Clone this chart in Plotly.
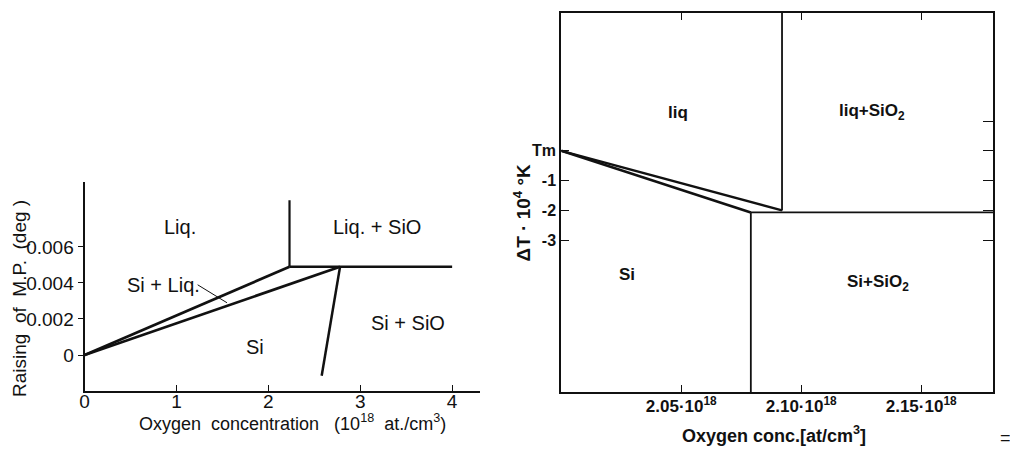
import plotly.graph_objects as go

# ---------------- data: left diagram (Raising of M.P. vs oxygen conc.) ----------------
liq_x = [0.0, 2.23]
liq_y = [0.0, 0.0049]
sol_x = [0.0, 2.78]
sol_y = [0.0, 0.0049]
eut_x = [2.23, 4.0]
eut_y = [0.0049, 0.0049]
vert_x = [2.23, 2.23]
vert_y = [0.0049, 0.0086]
solv_x = [2.78, 2.58]
solv_y = [0.0049, -0.00115]
lead_x = [1.23, 1.55]
lead_y = [0.0039, 0.0029]
left_xticks = [0, 1, 2, 3, 4]
left_yticks = [0, 0.002, 0.004, 0.006]
left_yticktext = ["0", "0.002", "0.004", "0.006"]
left_labels = ["Liq.", "Liq. + SiO", "Si + Liq.", "Si", "Si + SiO"]
left_label_x = [1.04, 3.18, 0.86, 1.85, 3.52]
left_label_y = [0.0071, 0.0071, 0.0039, 0.00045, 0.0018]

# ---------------- data: right diagram (ΔT vs oxygen conc.) ----------------
liq2_x = [2.000, 2.092]
liq2_y = [0.0, -2.0]
sol2_x = [2.000, 2.079]
sol2_y = [0.0, -2.07]
eut2_x = [2.079, 2.18]
eut2_y = [-2.07, -2.07]
vliq2_x = [2.092, 2.092]
vliq2_y = [-2.0, 4.63]
vsi2_x = [2.079, 2.079]
vsi2_y = [-2.07, -8.1]
right_xticks = [2.05, 2.10, 2.15]
right_xticktext = ["2.05·10<sup>18</sup>", "2.10·10<sup>18</sup>", "2.15·10<sup>18</sup>"]
right_yticks = [0, -1, -2, -3]
right_yticktext = ["Tm", "-1", "-2", "-3"]
right_yticks_mirror = [1, 0, -1, -2, -3]
right_labels = ["liq", "liq+SiO<sub>2</sub>", "Si", "Si+SiO<sub>2</sub>"]
right_label_x = [2.0488, 2.1296, 2.0275, 2.132]
right_label_y = [1.3, 1.3, -4.15, -4.45]

W, H = 1018, 450
OFF = 8  # page offset of the plot inside the browser window


def px_x(a, b):
    return [(a - OFF) / W, (b - OFF) / W]


def px_y(top, bottom):
    return [1 - (bottom - OFF) / H, 1 - (top - OFF) / H]


def pxp(x, y):
    return (x - OFF) / W, 1 - (y - OFF) / H


BLK = "#111111"
fig = go.Figure()


def seg(x, y, w, xa="x", ya="y"):
    fig.add_trace(go.Scatter(x=x, y=y, mode="lines", line=dict(color=BLK, width=w),
                             xaxis=xa, yaxis=ya, showlegend=False, hoverinfo="skip"))


# left
seg(liq_x, liq_y, 2.7)
seg(sol_x, sol_y, 2.7)
seg(eut_x, eut_y, 2.5)
seg(vert_x, vert_y, 2.2)
seg(solv_x, solv_y, 2.5)
seg(lead_x, lead_y, 1.0)
# right
seg(liq2_x, liq2_y, 2.4, "x2", "y2")
seg(sol2_x, sol2_y, 2.6, "x2", "y2")
seg(eut2_x, eut2_y, 1.8, "x2", "y2")
seg(vliq2_x, vliq2_y, 1.8, "x2", "y2")
seg(vsi2_x, vsi2_y, 1.8, "x2", "y2")
fig.add_trace(go.Scatter(x=[2.1], y=[0], mode="markers", marker=dict(opacity=0),
                         xaxis="x2", yaxis="y3", showlegend=False, hoverinfo="skip"))

LF = "Liberation Sans"
for t, x, y in zip(left_labels, left_label_x, left_label_y):
    fig.add_annotation(text=t, x=x, y=y, xref="x", yref="y", showarrow=False,
                       xanchor="center", yanchor="middle",
                       font=dict(family=LF, size=20, color=BLK))
for t, x, y in zip(right_labels, right_label_x, right_label_y):
    fig.add_annotation(text=t, x=x, y=y, xref="x2", yref="y2", showarrow=False,
                       xanchor="center", yanchor="middle",
                       font=dict(family=LF, size=17, color=BLK, weight="bold"))


def title(text, x, y, size, bold=False, angle=0):
    px, py = pxp(x, y)
    f = dict(family=LF, size=size, color=BLK)
    if bold:
        f["weight"] = "bold"
    fig.add_annotation(text=text, x=px, y=py, xref="paper", yref="paper", showarrow=False,
                       xanchor="center", yanchor="middle", textangle=angle, font=f,
                       borderpad=0)


title("Oxygen  concentration   (10<sup>18</sup>  at./cm<sup>3</sup>)", 289, 422, 18)
title("Raising  of  M.P.  (deg )", 14, 298, 19, angle=-90)
title("Oxygen conc.[at/cm<sup>3</sup>]", 773, 434, 18, bold=True)
title("ΔT · 10<sup>4</sup> °K", 520, 212, 19, bold=True, angle=-90)
title("=", 1005, 438, 18)

fig.update_layout(
    width=W, height=H, margin=dict(l=0, r=0, t=0, b=0),
    paper_bgcolor="white", plot_bgcolor="white", showlegend=False,
    xaxis=dict(domain=px_x(80, 477), range=[0, 4.3], showgrid=False, zeroline=False,
               showline=True, linecolor=BLK, linewidth=2.2, ticks="inside", ticklen=6,
               tickwidth=1.2, tickcolor=BLK, tickvals=left_xticks,
               tickfont=dict(family=LF, size=19, color=BLK), ticklabelstandoff=-8),
    yaxis=dict(domain=px_y(182, 391), range=[-0.002, 0.00961], showgrid=False, zeroline=False,
               showline=True, linecolor=BLK, linewidth=2.2, ticks="outside", ticklen=5,
               tickwidth=1.2, tickcolor=BLK, tickvals=left_yticks, ticktext=left_yticktext,
               tickfont=dict(family=LF, size=19, color=BLK), ticklabelstandoff=0),
    xaxis2=dict(domain=px_x(559, 993), range=[2.0, 2.18], anchor="y2", showgrid=False,
                zeroline=False, showline=True, mirror="ticks", linecolor=BLK, linewidth=2,
                ticks="inside", ticklen=7, tickwidth=1.2, tickcolor=BLK,
                tickvals=right_xticks, ticktext=right_xticktext,
                tickfont=dict(family=LF, size=17, color=BLK, weight="bold"),
                ticklabelstandoff=-2),
    yaxis2=dict(domain=px_y(13, 392), range=[-8.1, 4.63], anchor="x2", showgrid=False,
                zeroline=False, showline=True, mirror=True, linecolor=BLK, linewidth=2,
                ticks="inside", ticklen=8, tickwidth=1.2, tickcolor=BLK,
                tickvals=right_yticks, ticktext=right_yticktext,
                tickfont=dict(family=LF, size=16, color=BLK, weight="bold"), ticklabelstandoff=0),
    yaxis3=dict(overlaying="y2", side="right", anchor="x2", range=[-8.1, 4.63],
                showgrid=False, zeroline=False, showline=False, ticks="inside", ticklen=10,
                tickwidth=1.2, tickcolor=BLK, tickvals=right_yticks_mirror,
                showticklabels=False),
)

fig.write_html("out.html")
